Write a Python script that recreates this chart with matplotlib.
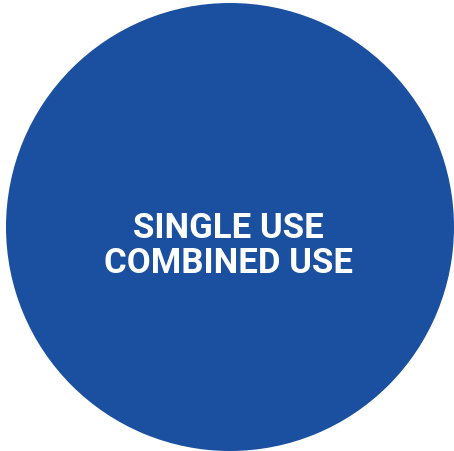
import matplotlib.pyplot as plt

# single category -> one full disc
labels = ["SINGLE USE\nCOMBINED USE"]
shares = [1.0]
disc_color = "#1b50a0"

fig = plt.figure(figsize=(4.54, 4.52), dpi=100)
ax = fig.add_axes([0, 0, 1, 1])

ax.pie(shares, colors=[disc_color], center=(230, 228), radius=224,
       startangle=90, frame=True, wedgeprops=dict(linewidth=0))
ax.set_xlim(0, 454)
ax.set_ylim(452, 0)
ax.set_aspect("equal")
ax.axis("off")

ax.text(228, 246, labels[0], ha="center", va="center", color="white",
        fontsize=25, fontweight="bold", family="Roboto", linespacing=1.1)

fig.savefig("out.png", dpi=100)
